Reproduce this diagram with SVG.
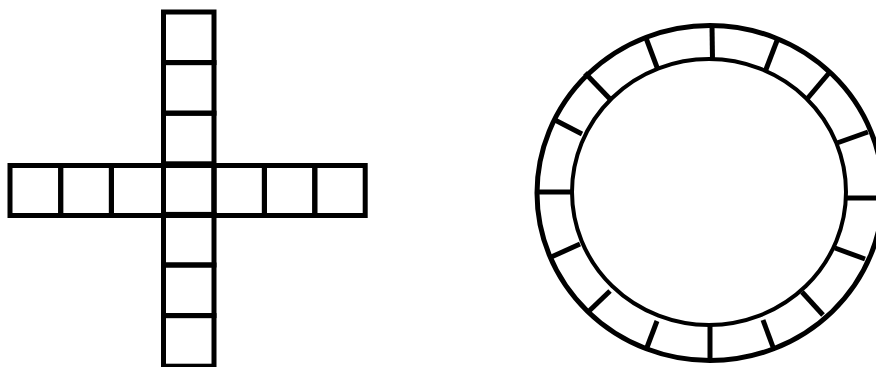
<svg xmlns="http://www.w3.org/2000/svg" width="876" height="367" viewBox="0 0 876 367">
<style>
.c{fill:none;stroke:#000;stroke-width:5}
.t{stroke:#000;stroke-width:5;stroke-linecap:butt}
</style>
<rect x="0" y="0" width="876" height="367" fill="#fff"/>
<g id="cross">
<g id="column">
<rect class="c" x="163.5" y="12" width="50.5" height="50.6"/>
<rect class="c" x="163.5" y="62.6" width="50.5" height="50.6"/>
<rect class="c" x="163.5" y="113.2" width="50.5" height="50.6"/>
<rect class="c" x="163.5" y="214.4" width="50.5" height="50.6"/>
<rect class="c" x="163.5" y="265" width="50.5" height="50.6"/>
<rect class="c" x="163.5" y="315.6" width="50.5" height="50.6"/>
</g>
<g id="row">
<rect class="c" x="10" y="165.5" width="50.7" height="50"/>
<rect class="c" x="60.7" y="165.5" width="50.7" height="50"/>
<rect class="c" x="111.4" y="165.5" width="52.1" height="50"/>
<rect class="c" x="163.5" y="165.5" width="50.5" height="50"/>
<rect class="c" x="214" y="165.5" width="50.4" height="50"/>
<rect class="c" x="264.4" y="165.5" width="50.4" height="50"/>
<rect class="c" x="314.8" y="165.5" width="50.4" height="50"/>
</g>
</g>
<g id="ring">
<ellipse class="c" cx="710" cy="193" rx="173" ry="167.5"/>
<ellipse class="c" cx="709" cy="192" rx="137" ry="133" style="stroke-width:4"/>
<g id="ticks">
<line class="t" x1="712" y1="26" x2="712.5" y2="60"/>
<line class="t" x1="646" y1="38" x2="658" y2="70"/>
<line class="t" x1="585" y1="73" x2="610" y2="99"/>
<line class="t" x1="553" y1="119" x2="582" y2="134"/>
<line class="t" x1="538" y1="192" x2="572" y2="192"/>
<line class="t" x1="549" y1="258" x2="580" y2="244"/>
<line class="t" x1="587" y1="313" x2="610" y2="291"/>
<line class="t" x1="646" y1="350" x2="657" y2="321"/>
<line class="t" x1="710" y1="361" x2="710" y2="326"/>
<line class="t" x1="773" y1="347" x2="763" y2="320"/>
<line class="t" x1="823" y1="315" x2="802" y2="292"/>
<line class="t" x1="865" y1="259" x2="835" y2="248"/>
<line class="t" x1="876" y1="198" x2="846" y2="198"/>
<line class="t" x1="868" y1="132" x2="837" y2="143"/>
<line class="t" x1="829" y1="73" x2="807" y2="99"/>
<line class="t" x1="778" y1="38" x2="765" y2="72"/>
</g>
</g>
</svg>
